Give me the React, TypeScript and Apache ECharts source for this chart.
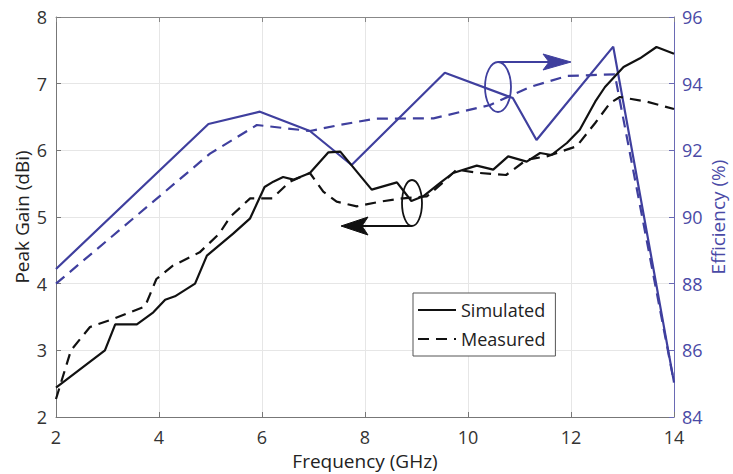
import React, { useEffect, useRef } from "react";
import * as echarts from "echarts";

const freqTicks = [2, 4, 6, 8, 10, 12, 14];

const gainSimulated: [number, number][] = [
  [2.0, 2.44], [2.95, 3.0], [3.15, 3.39], [3.57, 3.39], [3.89, 3.57], [4.12, 3.76],
  [4.31, 3.81], [4.7, 4.0], [4.93, 4.42], [5.44, 4.75], [5.77, 4.98], [6.05, 5.45],
  [6.22, 5.53], [6.41, 5.6], [6.61, 5.56], [6.93, 5.66], [7.29, 5.97], [7.52, 5.98],
  [8.13, 5.41], [8.62, 5.52], [8.9, 5.24], [9.13, 5.31], [9.49, 5.53], [9.71, 5.66],
  [10.17, 5.77], [10.49, 5.71], [10.78, 5.91], [11.14, 5.83], [11.4, 5.96], [11.62, 5.93],
  [11.92, 6.11], [12.17, 6.31], [12.47, 6.73], [12.66, 6.95], [13.02, 7.25], [13.34, 7.38],
  [13.66, 7.55], [14.0, 7.45],
];

const gainMeasured: [number, number][] = [
  [2.0, 2.27], [2.29, 3.0], [2.66, 3.35], [3.11, 3.47], [3.73, 3.66], [3.95, 4.07],
  [4.27, 4.27], [4.79, 4.47], [5.17, 4.75], [5.38, 5.0], [5.77, 5.28], [6.2, 5.28],
  [6.54, 5.53], [6.93, 5.66], [7.19, 5.38], [7.45, 5.23], [7.84, 5.16], [8.29, 5.23],
  [8.74, 5.28], [9.2, 5.31], [9.46, 5.48], [9.78, 5.71], [10.23, 5.66], [10.74, 5.63],
  [11.14, 5.86], [11.53, 5.91], [12.11, 6.06], [12.47, 6.41], [12.76, 6.71], [12.95, 6.8],
  [13.47, 6.73], [14.0, 6.62],
];

const effSimulated: [number, number][] = [
  [2.0, 88.44], [4.96, 92.79], [5.96, 93.16], [6.93, 92.58], [7.74, 91.56], [9.55, 94.33],
  [10.87, 93.57], [11.33, 92.31], [12.82, 95.11], [14.0, 85.04],
];

const effMeasured: [number, number][] = [
  [2.0, 88.0], [4.99, 91.9], [5.9, 92.76], [6.93, 92.58], [7.5, 92.76], [8.2, 92.95],
  [9.33, 92.96], [10.43, 93.36], [11.2, 93.9], [11.92, 94.23], [12.85, 94.28], [14.0, 85.04],
];

const BLUE = "#3f3f9e";
const BLUE_TEXT = "#4a4aa6";
const FONT = "'Open Sans', 'Noto Sans', sans-serif";

export default function App() {
  const ref = useRef<HTMLDivElement>(null);
  useEffect(() => {
    if (!ref.current) return;
    const chart = echarts.init(ref.current, null, { renderer: "svg" });
    chart.setOption({
      animation: false,
      backgroundColor: "#ffffff",
      textStyle: { fontFamily: FONT },
      grid: { left: 56, right: 59, top: 17, bottom: 57, containLabel: false, outerBoundsMode: "none" },
      legend: {
        data: ["Simulated", "Measured"],
        orient: "vertical",
        left: 413,
        top: 293,
        padding: [8, 10, 8, 4],
        itemGap: 11,
        itemWidth: 38,
        itemHeight: 14,
        borderColor: "#555",
        borderWidth: 1,
        backgroundColor: "#fff",
        itemStyle: { opacity: 0 },
        textStyle: { fontSize: 18, color: "#222", fontFamily: FONT },
      },
      xAxis: [
        {
          type: "value",
          min: 2,
          max: 14,
          interval: 2,
          position: "bottom",
          name: "Frequency (GHz)",
          nameLocation: "middle",
          nameGap: 34,
          nameMoveOverlap: false,
          nameTextStyle: { fontSize: 19, color: "#222", fontFamily: FONT },
          axisLine: { lineStyle: { color: "#777", width: 1 } },
          axisTick: { inside: true, length: 5, lineStyle: { color: "#777" } },
          axisLabel: { fontSize: 18, color: "#333", margin: 11, fontFamily: FONT },
          splitLine: { show: true, lineStyle: { color: "#e6e6e6", width: 1 } },
        },
        {
          type: "value",
          min: 2,
          max: 14,
          interval: 2,
          position: "top",
          axisLine: { lineStyle: { color: "#888", width: 1 } },
          axisTick: { inside: true, length: 5, lineStyle: { color: "#888" } },
          axisLabel: { show: false },
          splitLine: { show: false },
        },
      ],
      yAxis: [
        {
          type: "value",
          min: 2,
          max: 8,
          interval: 1,
          position: "left",
          name: "Peak Gain (dBi)",
          nameLocation: "middle",
          nameGap: 25,
          nameMoveOverlap: false,
          nameTextStyle: { fontSize: 19, color: "#222", fontFamily: FONT },
          axisLine: { show: true, lineStyle: { color: "#777", width: 1 } },
          axisTick: { show: true, inside: true, length: 5, lineStyle: { color: "#777" } },
          axisLabel: { fontSize: 18, color: "#333", margin: 9, fontFamily: FONT },
          splitLine: { show: true, lineStyle: { color: "#e6e6e6", width: 1 } },
        },
        {
          type: "value",
          min: 84,
          max: 96,
          interval: 2,
          position: "right",
          name: "Efficiency (%)",
          nameLocation: "middle",
          nameGap: 34,
          nameMoveOverlap: false,
          nameRotate: 90,
          nameTextStyle: { fontSize: 19, color: BLUE_TEXT, fontFamily: FONT },
          axisLine: { show: true, lineStyle: { color: "#6a6ab4", width: 1 } },
          axisTick: { show: true, inside: true, length: 5, lineStyle: { color: "#6a6ab4" } },
          axisLabel: { fontSize: 18, color: BLUE_TEXT, margin: 8, fontFamily: FONT },
          splitLine: { show: false },
        },
      ],
      series: [
        {
          name: "Simulated",
          type: "line",
          xAxisIndex: 0,
          yAxisIndex: 0,
          data: gainSimulated,
          symbol: "none",
          color: "#111",
          lineStyle: { color: "#111", width: 2.2, type: "solid" },
          z: 3,
        },
        {
          name: "Measured",
          type: "line",
          xAxisIndex: 0,
          yAxisIndex: 0,
          data: gainMeasured,
          symbol: "none",
          color: "#111",
          lineStyle: { color: "#111", width: 2.2, type: [11, 7] },
          z: 3,
        },
        {
          name: "Efficiency Simulated",
          type: "line",
          xAxisIndex: 0,
          yAxisIndex: 1,
          data: effSimulated,
          symbol: "none",
          color: BLUE,
          lineStyle: { color: BLUE, width: 2.2, type: "solid" },
          z: 2,
        },
        {
          name: "Efficiency Measured",
          type: "line",
          xAxisIndex: 0,
          yAxisIndex: 1,
          data: effMeasured,
          symbol: "none",
          color: BLUE,
          lineStyle: { color: BLUE, width: 2.2, type: [11, 7] },
          z: 2,
        },
      ],
      graphic: [
        {
          type: "ellipse",
          shape: { cx: 412, cy: 203, rx: 10, ry: 23 },
          style: { fill: "none", stroke: "#111", lineWidth: 1.8 },
          z: 10,
        },
        {
          type: "line",
          shape: { x1: 412, y1: 226, x2: 355, y2: 226 },
          style: { stroke: "#111", lineWidth: 2 },
          z: 10,
        },
        {
          type: "polygon",
          shape: { points: [[341, 226], [368, 217], [362, 226], [368, 235]] },
          style: { fill: "#111", stroke: "#111", lineWidth: 1 },
          z: 10,
        },
        {
          type: "ellipse",
          shape: { cx: 498, cy: 87, rx: 13, ry: 25 },
          style: { fill: "none", stroke: BLUE, lineWidth: 1.8 },
          z: 10,
        },
        {
          type: "line",
          shape: { x1: 498, y1: 62, x2: 560, y2: 62 },
          style: { stroke: BLUE, lineWidth: 2 },
          z: 10,
        },
        {
          type: "polygon",
          shape: { points: [[571, 62], [543, 54], [549, 62], [543, 70]] },
          style: { fill: BLUE, stroke: BLUE, lineWidth: 1 },
          z: 10,
        },
      ],
    });
    return () => chart.dispose();
  }, []);
  return (
    <div
      ref={ref}
      style={{ position: "fixed", left: 0, top: 0, width: 733, height: 474, background: "#fff" }}
    />
  );
}
